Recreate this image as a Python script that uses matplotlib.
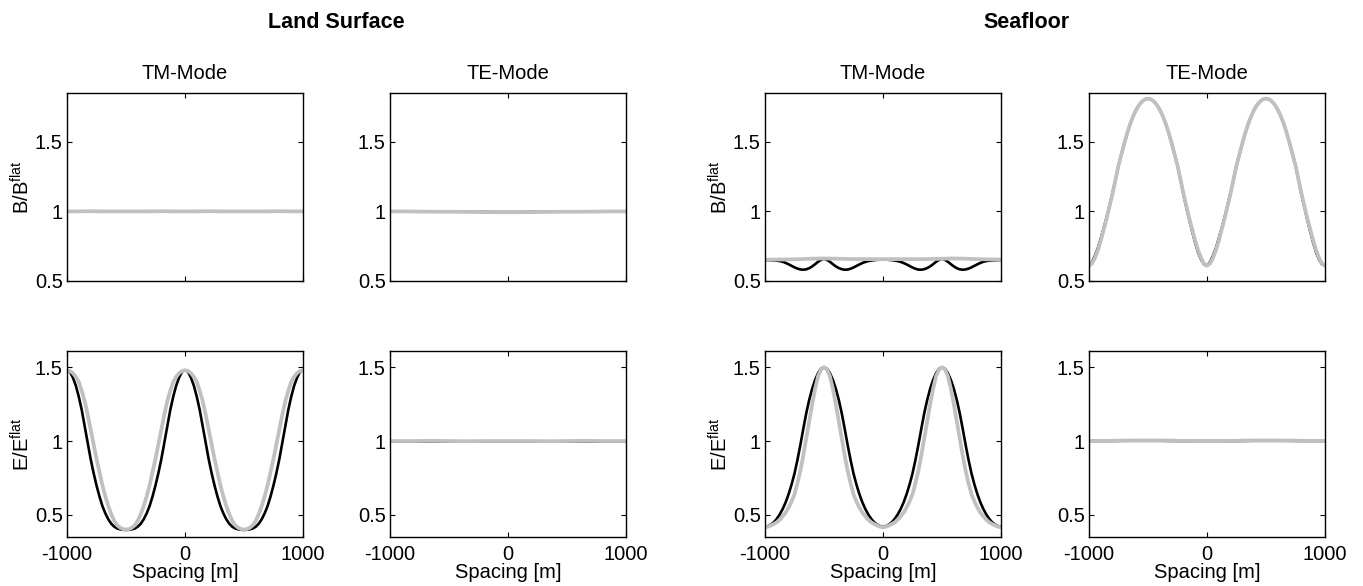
import matplotlib
matplotlib.use("Agg")
import matplotlib.pyplot as plt

plt.rcParams['font.family'] = ['Liberation Sans', 'DejaVu Sans']
plt.rcParams['mathtext.fontset'] = 'custom'
plt.rcParams['mathtext.rm'] = 'Liberation Sans'

# ---------------- data ----------------
spacing_fine = list(range(-1000, 1001, 25))     # 81 points
spacing_coarse = list(range(-1000, 1001, 100))  # 21 points

# Land surface, TM mode, magnetic field (flat)
land_tm_b_black = [1.0] * 21
land_tm_b_gray = [1.0, 1.0, 1.001, 1.0, 1.0, 1.0, 1.0, 1.0, 1.001, 1.0, 1.0,
                  1.0, 1.001, 1.0, 1.0, 1.0, 1.0, 1.0, 1.001, 1.0, 1.0]

# Land surface, TE mode, magnetic field
land_te_b_black = [1.0, 1.0, 0.999, 0.998, 0.998, 0.998, 0.998, 0.997, 0.996, 0.995, 0.995,
                   0.995, 0.996, 0.997, 0.998, 0.998, 0.998, 0.998, 0.999, 1.0, 1.0]
land_te_b_gray = [1.0, 1.0, 0.999, 0.998, 0.997, 0.997, 0.997, 0.996, 0.995, 0.994, 0.994,
                  0.994, 0.995, 0.996, 0.997, 0.997, 0.997, 0.998, 0.999, 1.0, 1.0]

# Land surface, TM mode, electric field
land_tm_e_black = [
    1.48, 1.47, 1.43, 1.375, 1.30, 1.21, 1.10, 0.99, 0.88, 0.785, 0.70,
    0.625, 0.56, 0.51, 0.47, 0.44, 0.42, 0.408, 0.402, 0.399, 0.398,
    0.399, 0.402, 0.408, 0.42, 0.44, 0.47, 0.51, 0.56, 0.625, 0.70,
    0.785, 0.88, 0.99, 1.10, 1.21, 1.30, 1.375, 1.43, 1.47, 1.48,
    1.47, 1.43, 1.375, 1.30, 1.21, 1.10, 0.99, 0.88, 0.785, 0.70,
    0.625, 0.56, 0.51, 0.47, 0.44, 0.42, 0.408, 0.402, 0.399, 0.398,
    0.399, 0.402, 0.408, 0.42, 0.44, 0.47, 0.51, 0.56, 0.625, 0.70,
    0.785, 0.88, 0.99, 1.10, 1.21, 1.30, 1.375, 1.43, 1.47, 1.48]
land_tm_e_gray = [
    1.48, 1.475, 1.46, 1.435, 1.40, 1.34, 1.27, 1.18, 1.08, 0.98, 0.88,
    0.79, 0.70, 0.625, 0.56, 0.505, 0.46, 0.43, 0.413, 0.404, 0.40,
    0.404, 0.413, 0.43, 0.46, 0.505, 0.56, 0.625, 0.70, 0.79, 0.88,
    0.98, 1.08, 1.18, 1.27, 1.34, 1.40, 1.435, 1.46, 1.475, 1.48,
    1.475, 1.46, 1.435, 1.40, 1.34, 1.27, 1.18, 1.08, 0.98, 0.88,
    0.79, 0.70, 0.625, 0.56, 0.505, 0.46, 0.43, 0.413, 0.404, 0.40,
    0.404, 0.413, 0.43, 0.46, 0.505, 0.56, 0.625, 0.70, 0.79, 0.88,
    0.98, 1.08, 1.18, 1.27, 1.34, 1.40, 1.435, 1.46, 1.475, 1.48]

# Land surface, TE mode, electric field (flat)
land_te_e_black = [1.0] * 21
land_te_e_gray = [1.0, 1.0, 1.0, 1.001, 1.001, 1.0, 0.999, 0.999, 1.0, 1.0, 1.0,
                  1.0, 1.0, 0.999, 0.999, 1.0, 1.001, 1.001, 1.0, 1.0, 1.0]

# Seafloor, TM mode, magnetic field
sea_tm_b_black = [
    0.650, 0.650, 0.649, 0.648, 0.646, 0.643, 0.638, 0.630, 0.620, 0.609,
    0.598, 0.589, 0.583, 0.581, 0.584, 0.592, 0.605, 0.621, 0.638, 0.652,
    0.660, 0.652, 0.638, 0.621, 0.605, 0.593, 0.585, 0.581, 0.582, 0.588,
    0.597, 0.608, 0.619, 0.629, 0.637, 0.643, 0.647, 0.650, 0.652, 0.653,
    0.653,
    0.653, 0.652, 0.650, 0.647, 0.643, 0.637, 0.629, 0.619, 0.608, 0.597,
    0.588, 0.582, 0.581, 0.585, 0.593, 0.605, 0.621, 0.638, 0.652, 0.660,
    0.652, 0.638, 0.621, 0.605, 0.592, 0.584, 0.581, 0.583, 0.589, 0.598,
    0.609, 0.620, 0.630, 0.638, 0.643, 0.646, 0.648, 0.649, 0.650, 0.650]
sea_tm_b_gray = [0.653, 0.654, 0.655, 0.657, 0.660, 0.662, 0.660, 0.658, 0.657, 0.657, 0.657,
                 0.657, 0.657, 0.657, 0.658, 0.660, 0.662, 0.660, 0.657, 0.655, 0.654]

# Seafloor, TE mode, magnetic field
sea_te_b_black = [
    0.61, 0.635, 0.68, 0.735, 0.805, 0.88, 0.96, 1.045, 1.135, 1.23, 1.33,
    1.41, 1.49, 1.565, 1.63, 1.685, 1.73, 1.765, 1.79, 1.805, 1.81,
    1.805, 1.79, 1.765, 1.73, 1.685, 1.63, 1.565, 1.49, 1.41, 1.33,
    1.23, 1.125, 1.03, 0.94, 0.855, 0.775, 0.705, 0.655, 0.62, 0.61,
    0.635, 0.68, 0.735, 0.805, 0.88, 0.96, 1.045, 1.135, 1.23, 1.33,
    1.41, 1.49, 1.565, 1.63, 1.685, 1.73, 1.765, 1.79, 1.805, 1.81,
    1.805, 1.79, 1.765, 1.73, 1.685, 1.63, 1.565, 1.49, 1.41, 1.33,
    1.23, 1.125, 1.03, 0.94, 0.855, 0.775, 0.705, 0.655, 0.62, 0.61]
sea_te_b_gray = [
    0.61, 0.625, 0.665, 0.72, 0.79, 0.87, 0.95, 1.04, 1.13, 1.23, 1.33,
    1.41, 1.49, 1.565, 1.63, 1.685, 1.73, 1.765, 1.79, 1.805, 1.81,
    1.805, 1.79, 1.765, 1.73, 1.685, 1.63, 1.565, 1.49, 1.41, 1.33,
    1.23, 1.13, 1.04, 0.95, 0.87, 0.79, 0.72, 0.665, 0.625, 0.61,
    0.625, 0.665, 0.72, 0.79, 0.87, 0.95, 1.04, 1.13, 1.23, 1.33,
    1.41, 1.49, 1.565, 1.63, 1.685, 1.73, 1.765, 1.79, 1.805, 1.81,
    1.805, 1.79, 1.765, 1.73, 1.685, 1.63, 1.565, 1.49, 1.41, 1.33,
    1.23, 1.13, 1.04, 0.95, 0.87, 0.79, 0.72, 0.665, 0.625, 0.61]

# Seafloor, TM mode, electric field
sea_tm_e_black = [
    0.42, 0.424, 0.434, 0.45, 0.473, 0.503, 0.54, 0.585, 0.64, 0.705, 0.78,
    0.872, 0.975, 1.085, 1.19, 1.28, 1.355, 1.415, 1.46, 1.49, 1.50,
    1.49, 1.46, 1.415, 1.355, 1.28, 1.19, 1.085, 0.975, 0.872, 0.78,
    0.705, 0.64, 0.585, 0.54, 0.503, 0.473, 0.45, 0.434, 0.424, 0.42,
    0.424, 0.434, 0.45, 0.473, 0.503, 0.54, 0.585, 0.64, 0.705, 0.78,
    0.872, 0.975, 1.085, 1.19, 1.28, 1.355, 1.415, 1.46, 1.49, 1.50,
    1.49, 1.46, 1.415, 1.355, 1.28, 1.19, 1.085, 0.975, 0.872, 0.78,
    0.705, 0.64, 0.585, 0.54, 0.503, 0.473, 0.45, 0.434, 0.424, 0.42]
sea_tm_e_gray = [
    0.415, 0.42, 0.428, 0.438, 0.45, 0.468, 0.49, 0.515, 0.55, 0.59, 0.64,
    0.715, 0.80, 0.905, 1.02, 1.135, 1.25, 1.355, 1.44, 1.485, 1.50,
    1.485, 1.44, 1.355, 1.25, 1.135, 1.02, 0.905, 0.80, 0.715, 0.64,
    0.59, 0.55, 0.515, 0.49, 0.468, 0.45, 0.438, 0.428, 0.42, 0.415,
    0.42, 0.428, 0.438, 0.45, 0.468, 0.49, 0.515, 0.55, 0.59, 0.64,
    0.715, 0.80, 0.905, 1.02, 1.135, 1.25, 1.355, 1.44, 1.485, 1.50,
    1.485, 1.44, 1.355, 1.25, 1.135, 1.02, 0.905, 0.80, 0.715, 0.64,
    0.59, 0.55, 0.515, 0.49, 0.468, 0.45, 0.438, 0.428, 0.42, 0.415]

# Seafloor, TE mode, electric field (flat)
sea_te_e_black = [1.0, 1.0, 1.001, 1.002, 1.002, 1.002, 1.002, 1.001, 1.0, 1.0, 1.0,
                  1.0, 1.0, 1.001, 1.002, 1.002, 1.002, 1.002, 1.001, 1.0, 1.0]
sea_te_e_gray = [1.0, 1.0, 1.002, 1.003, 1.004, 1.004, 1.004, 1.003, 1.001, 1.0, 1.0,
                 1.0, 1.001, 1.003, 1.004, 1.004, 1.004, 1.003, 1.002, 1.0, 1.0]

col_titles = ['TM-Mode', 'TE-Mode', 'TM-Mode', 'TE-Mode']
group_titles = ['Land Surface', 'Seafloor']
x_ticks = [-1000, 0, 1000]
x_tick_labels = ['-1000', '0', '1000']
y_ticks = [0.5, 1, 1.5]
y_tick_labels = ['0.5', '1', '1.5']

# ---------------- layout ----------------
W, H = 1363, 586
fig = plt.figure(figsize=(W / 100, H / 100), dpi=100)

col_left = [67, 390, 765, 1089]
ax_w = 236
top_row = (93, 281)
bot_row = (351, 537)
group_title_x = [336, 1026]

GRAY = '#c0c0c0'
FS = 14.5

panels_top = [
    (spacing_coarse, land_tm_b_black, spacing_coarse, land_tm_b_gray),
    (spacing_coarse, land_te_b_black, spacing_coarse, land_te_b_gray),
    (spacing_fine, sea_tm_b_black, spacing_coarse, sea_tm_b_gray),
    (spacing_fine, sea_te_b_black, spacing_fine, sea_te_b_gray),
]
panels_bot = [
    (spacing_fine, land_tm_e_black, spacing_fine, land_tm_e_gray),
    (spacing_coarse, land_te_e_black, spacing_coarse, land_te_e_gray),
    (spacing_fine, sea_tm_e_black, spacing_fine, sea_tm_e_gray),
    (spacing_coarse, sea_te_e_black, spacing_coarse, sea_te_e_gray),
]


def make_ax(left, row):
    t, b = row
    return fig.add_axes([left / W, 1 - b / H, ax_w / W, (b - t) / H])


for i in range(4):
    for r, (row, panels) in enumerate([(top_row, panels_top), (bot_row, panels_bot)]):
        ax = make_ax(col_left[i], row)
        xb, yb, xg, yg = panels[i]
        ax.plot(xb, yb, color='black', lw=1.9)
        ax.plot(xg, yg, color=GRAY, lw=2.7)
        ax.set_xlim(-1000, 1000)
        ax.set_xticks(x_ticks)
        ax.set_yticks(y_ticks)
        ax.set_yticklabels(y_tick_labels)
        ax.tick_params(direction='in', top=True, right=True, length=3.5,
                       width=0.8, labelsize=FS, pad=3)
        for sp in ax.spines.values():
            sp.set_linewidth(1.0)
        if r == 0:
            ax.set_ylim(0.5, 1.85)
            ax.set_xticklabels([])
            ax.set_title(col_titles[i], fontsize=FS, pad=10)
            if i in (0, 2):
                ax.set_ylabel(r'B/B$^{\mathregular{flat}}$', fontsize=FS, labelpad=1)
        else:
            ax.set_ylim(0.35, 1.61)
            ax.set_xticklabels(x_tick_labels)
            ax.tick_params(axis='x', pad=6)
            ax.set_xlabel('Spacing [m]', fontsize=FS, labelpad=-1)
            if i in (0, 2):
                ax.set_ylabel(r'E/E$^{\mathregular{flat}}$', fontsize=FS, labelpad=1)

for gx, gt in zip(group_title_x, group_titles):
    fig.text(gx / W, 1 - 22 / H, gt, ha='center', va='center',
             fontsize=15.5, fontweight='bold')

fig.savefig('out.png', dpi=100)
